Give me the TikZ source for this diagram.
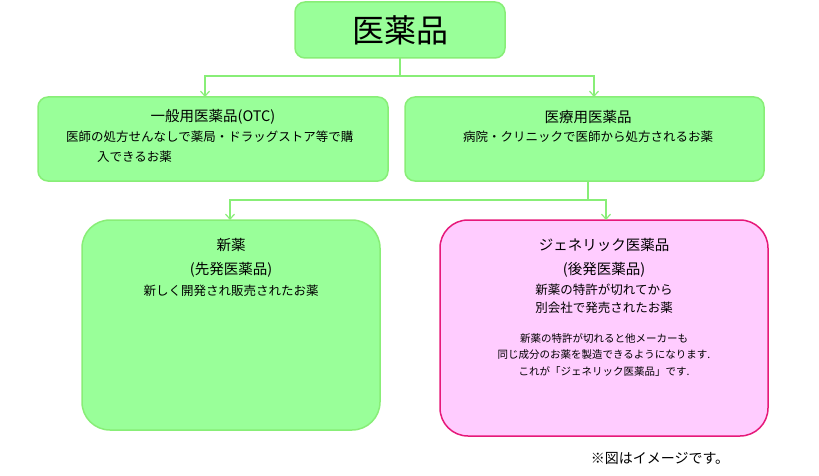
\documentclass[tikz,border=0pt]{standalone}
\usepackage{fontspec}
\setmainfont{Noto Sans CJK JP}
\usetikzlibrary{arrows.meta}
\definecolor{gfill}{HTML}{99FF99}
\definecolor{gline}{HTML}{88EE77}
\definecolor{pfill}{HTML}{FFCCFF}
\definecolor{pline}{HTML}{E6197A}
\tikzset{
 gbox/.style={draw=gline,fill=gfill,line width=1.5pt,rounded corners=10pt},
 bigbox/.style={gbox,rounded corners=28pt},
 pbox/.style={draw=pline,fill=pfill,line width=1.5pt,rounded corners=28pt},
 conn/.style={draw=gline,line width=1.2pt},
 arr/.style={conn,-{Straight Barb[length=5pt,width=9pt]}},
 t/.style={font=\fontsize{14.5}{16}\selectfont,inner sep=0pt},
 s/.style={font=\fontsize{12.5}{14}\selectfont,inner sep=0pt},
 xs/.style={font=\fontsize{10.5}{12}\selectfont,inner sep=0pt},
}
\begin{document}
\begin{tikzpicture}[x=1pt,y=-1pt]
\useasboundingbox (0,0) rectangle (819,476);
\path[gbox] (295,2) rectangle (505,58);
\node[inner sep=0pt,font=\fontsize{32}{34}\selectfont] (top) at (400,30) {医薬品};
\path[gbox] (38,97) rectangle (388,181); \coordinate (otc) at (205,97);
\path[gbox] (405,97) rectangle (764,181); \coordinate (iry) at (594,97);
\coordinate (iryb) at (588,181);
\path[bigbox] (82,220) rectangle (380,430); \coordinate (shin) at (230,220);
\path[pbox] (440,220) rectangle (768,436); \coordinate (gen) at (606,220);
\coordinate (topb) at (400,58);
\draw[conn] (topb) -- (400,76) coordinate (j1);
\draw[arr] (j1) -| (otc);
\draw[arr] (j1) -| (iry);
\draw[conn] (iryb) -- (588,200) coordinate (j2);
\draw[arr] (j2) -| (shin);
\draw[arr] (j2) -| (gen);
\node[t] (a1) at (213,117) {一般用医薬品(OTC)};
\node[s,anchor=west] (a2) at (66,137) {医師の処方せんなしで薬局・ドラッグストア等で購};
\node[s,anchor=west] (a3) at (97,157) {入できるお薬};
\node[t] (b1) at (588,117) {医療用医薬品};
\node[s] (b2) at (588,137) {病院・クリニックで医師から処方されるお薬};
\node[t] (c1) at (231,245) {新薬};
\node[t] (c2) at (231,270) {(先発医薬品)};
\node[s] (c3) at (231,291) {新しく開発され販売されたお薬};
\node[t] (d1) at (604,245) {ジェネリック医薬品};
\node[t] (d2) at (604,270) {(後発医薬品)};
\node[s] (d3) at (604,290) {新薬の特許が切れてから};
\node[s] (d4) at (604,308) {別会社で発売されたお薬};
\node[xs] (d5) at (604,338) {新薬の特許が切れると他メーカーも};
\node[xs] (d6) at (604,355) {同じ成分のお薬を製造できるようになります.};
\node[xs] (d7) at (604,372) {これが「ジェネリック医薬品」です.};
\node[font=\fontsize{14}{16}\selectfont,inner sep=0pt] (f) at (660,458) {※図はイメージです。};
\end{tikzpicture}
\end{document}
